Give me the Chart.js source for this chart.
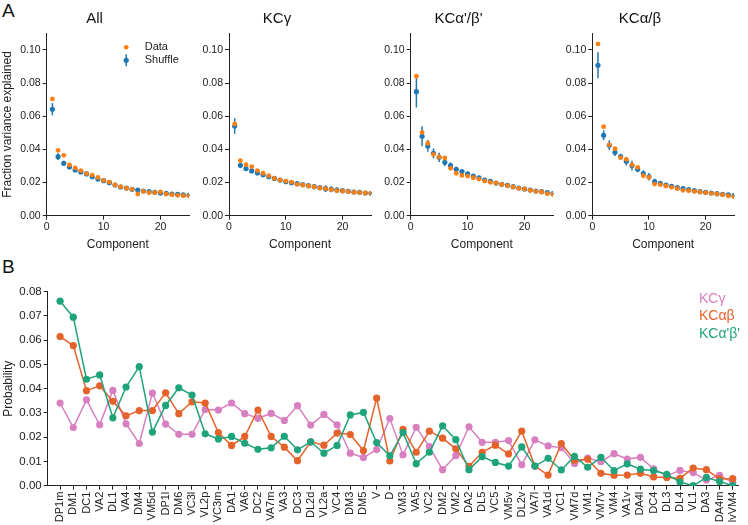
<!DOCTYPE html>
<html>
<head>
<meta charset="utf-8">
<script src="https://cdn.jsdelivr.net/npm/chart.js@4.4.0/dist/chart.umd.min.js"></script>
<style>
  body { margin: 0; background: #fff; }
  #wrap { position: relative; width: 748px; height: 525px; overflow: hidden; font-family: 'Liberation Sans', Arial, sans-serif; }
  canvas { position: absolute; }
  .panel { position: absolute; font-size: 19px; color: #111; }
  .leg { position: absolute; font-size: 14px; line-height: 17px; }
</style>
</head>
<body>
<div id="wrap">
  <div class="panel" style="left:2px;top:0px;">A</div>
  <div class="panel" style="left:2px;top:256px;">B</div>
  <canvas id="pAll" width="195" height="255" style="left:0;top:0;"></canvas>
  <canvas id="pGamma" width="194" height="255" style="left:183px;top:0;"></canvas>
  <canvas id="pApBp" width="195" height="255" style="left:364px;top:0;"></canvas>
  <canvas id="pAB" width="194" height="255" style="left:546px;top:0;"></canvas>
  <canvas id="glom" width="748" height="270" style="left:0;top:255px;"></canvas>
  <div class="leg" style="left:699px;top:290px;color:#d77fc0;">KCγ</div>
  <div class="leg" style="left:699px;top:307px;color:#e5632a;">KCαβ</div>
  <div class="leg" style="left:699px;top:325px;color:#1fa37b;">KCα'β'</div>
</div>
<script>
// ---- panel A: fraction variance explained per component ----
const components = [1, 2, 3, 4, 5, 6, 7, 8, 9, 10, 11, 12, 13, 14, 15, 16, 17, 18, 19, 20, 21, 22, 23, 24, 25];

const allData = [0.0704, 0.0394, 0.0364, 0.0306, 0.0288, 0.0272, 0.0254, 0.0245, 0.0231, 0.0213, 0.0203, 0.0185, 0.0175, 0.0165, 0.0159, 0.0131, 0.0147, 0.0139, 0.0139, 0.0143, 0.0131, 0.0127, 0.0123, 0.0121, 0.0119];
const allShuffle = [0.0642, 0.0356, 0.0316, 0.0294, 0.0276, 0.0264, 0.0252, 0.0235, 0.0221, 0.0211, 0.0199, 0.0185, 0.0173, 0.0167, 0.0159, 0.0155, 0.0149, 0.0145, 0.0141, 0.0137, 0.0135, 0.0131, 0.0129, 0.0125, 0.0123];
const allShuffleErr = [0.0037, 0.002, 0.0015, 0.0012, 0.001, 0.001, 0.0008, 0.0008, 0.0008, 0.0007, 0.0007, 0.0007, 0.0006, 0.0012, 0.0012, 0.0012, 0.0012, 0.001, 0.001, 0.0008, 0.0008, 0.0007, 0.0007, 0.0006, 0.0006];

const gammaData = [0.0553, 0.0332, 0.0308, 0.0296, 0.0272, 0.0256, 0.0241, 0.0225, 0.0215, 0.0209, 0.0203, 0.0189, 0.0185, 0.0179, 0.0173, 0.0167, 0.0163, 0.0157, 0.0151, 0.0149, 0.0145, 0.0141, 0.0139, 0.0137, 0.0135];
const gammaShuffle = [0.0541, 0.0304, 0.0284, 0.0270, 0.0258, 0.0247, 0.0235, 0.0225, 0.0215, 0.0205, 0.0199, 0.0193, 0.0187, 0.0181, 0.0175, 0.0169, 0.0163, 0.0159, 0.0155, 0.0151, 0.0147, 0.0143, 0.0141, 0.0137, 0.0135];
const gammaShuffleErr = [0.0047, 0.0015, 0.0012, 0.001, 0.0009, 0.0008, 0.0008, 0.0007, 0.0007, 0.0007, 0.0007, 0.0007, 0.0006, 0.0006, 0.0007, 0.0009, 0.002, 0.0018, 0.0017, 0.0015, 0.0012, 0.0012, 0.0012, 0.001, 0.0008];

const apbpData = [0.0841, 0.0503, 0.0437, 0.0370, 0.0354, 0.0348, 0.0286, 0.0256, 0.0243, 0.0239, 0.0229, 0.0221, 0.0209, 0.0201, 0.0197, 0.0189, 0.0181, 0.0173, 0.0165, 0.0161, 0.0153, 0.0147, 0.0143, 0.0133, 0.0129];
const apbpShuffle = [0.0748, 0.0479, 0.0421, 0.0376, 0.0352, 0.0322, 0.0302, 0.0280, 0.0266, 0.0252, 0.0239, 0.0229, 0.0215, 0.0207, 0.0197, 0.0189, 0.0183, 0.0175, 0.0167, 0.0161, 0.0155, 0.0149, 0.0145, 0.0139, 0.0133];
const apbpShuffleErr = [0.0095, 0.006, 0.0035, 0.003, 0.0028, 0.0022, 0.002, 0.0015, 0.0015, 0.0012, 0.0012, 0.001, 0.001, 0.0009, 0.0008, 0.0008, 0.0007, 0.0007, 0.0007, 0.0006, 0.0006, 0.0006, 0.0006, 0.0006, 0.0006];

const abData = [0.1036, 0.0537, 0.0427, 0.0404, 0.0350, 0.0340, 0.0306, 0.0292, 0.0241, 0.0231, 0.0191, 0.0187, 0.0179, 0.0171, 0.0163, 0.0153, 0.0151, 0.0147, 0.0143, 0.0139, 0.0135, 0.0131, 0.0127, 0.0119, 0.0115];
const abShuffle = [0.0907, 0.0485, 0.0425, 0.0382, 0.0356, 0.0328, 0.0302, 0.0280, 0.0254, 0.0235, 0.0205, 0.0195, 0.0185, 0.0177, 0.0169, 0.0163, 0.0157, 0.0151, 0.0145, 0.0141, 0.0137, 0.0133, 0.0129, 0.0125, 0.0121];
const abShuffleErr = [0.0078, 0.003, 0.003, 0.0022, 0.0018, 0.0025, 0.003, 0.0018, 0.002, 0.0022, 0.0018, 0.0012, 0.001, 0.0009, 0.0008, 0.0008, 0.0007, 0.0007, 0.0007, 0.0006, 0.0006, 0.0006, 0.0006, 0.0006, 0.0006];

const yTicksA = [0, 0.02, 0.04, 0.06, 0.08, 0.10];
const xTicksA = [0, 10, 20];

// ---- panel B: glomerulus probabilities ----
const glomeruli = ['DP1m', 'DM1', 'DC1', 'VA2', 'DL1', 'VA4', 'DM4', 'VM5d', 'DP1l', 'DM6', 'VC3l', 'VL2p', 'VC3m', 'DA1', 'VA6', 'DC2', 'VA7m', 'VA3', 'DC3', 'DL2d', 'VL2a', 'VC4', 'DM3', 'DM5', 'V', 'D', 'VM3', 'VA5', 'VC2', 'DM2', 'VM2', 'DA2', 'DL5', 'VC5', 'VM5v', 'DL2v', 'VA7l', 'VA1d', 'VC1', 'VM7d', 'VM1', 'VM7v', 'VM4', 'VA1v', 'DA4l', 'DC4', 'DL3', 'DL4', 'VL1', 'DA3', 'DA4m', 'lvVM4'];
const kcGamma = [0.0341, 0.0240, 0.0354, 0.0251, 0.0393, 0.0255, 0.0174, 0.0382, 0.0254, 0.0212, 0.0212, 0.0314, 0.0312, 0.0341, 0.0297, 0.0278, 0.0298, 0.0269, 0.0330, 0.0250, 0.0294, 0.0251, 0.0134, 0.0116, 0.0149, 0.0277, 0.0127, 0.0241, 0.0161, 0.0066, 0.0124, 0.0243, 0.0179, 0.0179, 0.0186, 0.0086, 0.0189, 0.0164, 0.0157, 0.0092, 0.0114, 0.0099, 0.0132, 0.0110, 0.0117, 0.0069, 0.0041, 0.0063, 0.0054, 0.0023, 0.0043, 0.0014];
const kcAlphaBeta = [0.0615, 0.0578, 0.0392, 0.0412, 0.0348, 0.0288, 0.0310, 0.0310, 0.0383, 0.0297, 0.0346, 0.0341, 0.0219, 0.0166, 0.0203, 0.0312, 0.0203, 0.0159, 0.0103, 0.0181, 0.0167, 0.0217, 0.0211, 0.0145, 0.0361, 0.0102, 0.0232, 0.0138, 0.0225, 0.0196, 0.0152, 0.0080, 0.0138, 0.0167, 0.0131, 0.0225, 0.0081, 0.0044, 0.0174, 0.0105, 0.0109, 0.0051, 0.0043, 0.0044, 0.0051, 0.0036, 0.0034, 0.0030, 0.0073, 0.0066, 0.0028, 0.0029];
const kcAlphaPBetaP = [0.0761, 0.0695, 0.0439, 0.0457, 0.0280, 0.0407, 0.0491, 0.0221, 0.0331, 0.0404, 0.0374, 0.0214, 0.0193, 0.0203, 0.0175, 0.0150, 0.0156, 0.0204, 0.0148, 0.0181, 0.0134, 0.0166, 0.0292, 0.0302, 0.0178, 0.0123, 0.0219, 0.0091, 0.0138, 0.0247, 0.0190, 0.0066, 0.0120, 0.0096, 0.0081, 0.0160, 0.0081, 0.0113, 0.0065, 0.0121, 0.0076, 0.0117, 0.0062, 0.0090, 0.0068, 0.0062, 0.0047, 0.0015, 0.0000, 0.0034, 0.0017, 0.0000];
const yTicksB = [0, 0.01, 0.02, 0.03, 0.04, 0.05, 0.06, 0.07, 0.08];

const FONT = "'Liberation Sans', Arial, sans-serif";
const INK = '#222';
const BLUE = '#1f77b4';
const ORANGE = '#ff7f0e';
Chart.defaults.font.family = FONT;
Chart.defaults.color = INK;
Chart.defaults.animation = false;

// draws the shuffle error bars (mean +- err) through the chart scales
const errorBars = {
  id: 'errorBars',
  beforeDatasetsDraw(chart, args, opts) {
    if (!opts.err) return;
    const {ctx, scales: {x, y}} = chart;
    const pts = chart.data.datasets[1].data;
    ctx.save();
    ctx.strokeStyle = BLUE;
    ctx.lineWidth = 1.5;
    pts.forEach((p, i) => {
      const px = x.getPixelForValue(p.x);
      ctx.beginPath();
      ctx.moveTo(px, y.getPixelForValue(p.y + opts.err[i]));
      ctx.lineTo(px, y.getPixelForValue(p.y - opts.err[i]));
      ctx.stroke();
    });
    ctx.restore();
  }
};

// small legend inside the first panel
const dataLegend = {
  id: 'dataLegend',
  afterDraw(chart, args, opts) {
    if (!opts.show) return;
    const {ctx, chartArea} = chart;
    const mx = chartArea.left + 79.5, tx = chartArea.left + 98;
    const y1 = chartArea.top + 14, y2 = chartArea.top + 27;
    ctx.save();
    ctx.fillStyle = ORANGE;
    ctx.beginPath(); ctx.arc(mx, y1, 2.3, 0, Math.PI * 2); ctx.fill();
    ctx.strokeStyle = BLUE; ctx.lineWidth = 1.5;
    ctx.beginPath(); ctx.moveTo(mx, y2 - 6); ctx.lineTo(mx, y2 + 6); ctx.stroke();
    ctx.fillStyle = BLUE;
    ctx.beginPath(); ctx.arc(mx, y2, 2.6, 0, Math.PI * 2); ctx.fill();
    ctx.fillStyle = INK;
    ctx.font = '11px ' + FONT;
    ctx.textBaseline = 'middle';
    ctx.fillText('Data', tx, y1);
    ctx.fillText('Shuffle', tx, y2);
    ctx.restore();
  }
};

function panel(id, title, data, shuffle, err, yWidth, yLabel, legend) {
  new Chart(document.getElementById(id), {
    type: 'scatter',
    data: {
      datasets: [
        { label: 'Data', data: components.map((c, i) => ({x: c, y: data[i]})),
          backgroundColor: ORANGE, pointRadius: 2.4, pointBorderWidth: 0, order: 0 },
        { label: 'Shuffle', data: components.map((c, i) => ({x: c, y: shuffle[i]})),
          backgroundColor: BLUE, pointRadius: 2.6, pointBorderWidth: 0, order: 1 }
      ]
    },
    options: {
      responsive: false,
      layout: { padding: { right: 6 } },
      plugins: {
        legend: { display: false },
        tooltip: { enabled: false },
        title: { display: true, text: title, color: '#111', font: { size: 15, weight: 'normal' }, padding: { top: 10, bottom: 5.3 } },
        errorBars: { err: err },
        dataLegend: { show: legend }
      },
      scales: {
        x: {
          type: 'linear', min: 0, max: 25,
          afterBuildTicks: s => { s.ticks = xTicksA.map(v => ({value: v})); },
          afterFit: s => { s.height = 39.3; },
          grid: { drawOnChartArea: false, color: INK, tickLength: 4 },
          border: { color: INK },
          ticks: { font: { size: 10.5 }, padding: 1, maxRotation: 0 },
          title: { display: true, text: 'Component', font: { size: 12 }, padding: { top: 0, bottom: 3 } }
        },
        y: {
          min: 0, max: 0.11,
          afterBuildTicks: s => { s.ticks = yTicksA.map(v => ({value: v})); },
          afterFit: s => { s.width = yWidth; },
          grid: { drawOnChartArea: false, color: INK, tickLength: 4 },
          border: { color: INK },
          ticks: { font: { size: 10.5 }, padding: 2, callback: v => v.toFixed(2) },
          title: { display: yLabel, text: 'Fraction variance explained', font: { size: 12 }, padding: { top: 0, bottom: 0 } }
        }
      }
    },
    plugins: [errorBars, dataLegend]
  });
}

panel('pAll', 'All', allData, allShuffle, allShuffleErr, 46.7, true, true);
panel('pGamma', 'KCγ', gammaData, gammaShuffle, gammaShuffleErr, 46, false, false);
panel('pApBp', "KCα'/β'", apbpData, apbpShuffle, apbpShuffleErr, 46.7, false, false);
panel('pAB', 'KCα/β', abData, abShuffle, abShuffleErr, 46.3, false, false);

function series(label, values, color, order) {
  return {
    label: label,
    data: values.map((v, i) => ({x: i, y: v})),
    borderColor: color, backgroundColor: color,
    borderWidth: 1.5, pointRadius: 3.6, pointBorderWidth: 0,
    tension: 0, showLine: true, order: order
  };
}

new Chart(document.getElementById('glom'), {
  type: 'scatter',
  data: {
    datasets: [
      series('KCγ', kcGamma, '#d77fc0', 3),
      series('KCαβ', kcAlphaBeta, '#e5632a', 2),
      series("KCα'β'", kcAlphaPBetaP, '#1fa37b', 1)
    ]
  },
  options: {
    responsive: false,
    layout: { padding: { top: 36.7, right: 0 } },
    plugins: { legend: { display: false }, tooltip: { enabled: false } },
    scales: {
      x: {
        type: 'linear', min: -0.94, max: 51.45,
        afterBuildTicks: s => { s.ticks = glomeruli.map((g, i) => ({value: i})); },
        afterFit: s => { s.height = 39.3; },
        grid: { drawOnChartArea: false, color: INK, tickLength: 4 },
        border: { color: INK },
        ticks: { font: { size: 11 }, padding: 2, autoSkip: false, minRotation: 90, maxRotation: 90,
                 callback: v => glomeruli[v] }
      },
      y: {
        min: 0, max: 0.08,
        afterBuildTicks: s => { s.ticks = yTicksB.map(v => ({value: v})); },
        afterFit: s => { s.width = 47.7; },
        grid: { drawOnChartArea: false, color: INK, tickLength: 4 },
        border: { color: INK },
        ticks: { font: { size: 11.5 }, padding: 2, callback: v => v.toFixed(2) },
        title: { display: true, text: 'Probability', font: { size: 12 }, padding: { top: 1, bottom: 0 } }
      }
    }
  }
});
</script>
</body>
</html>
